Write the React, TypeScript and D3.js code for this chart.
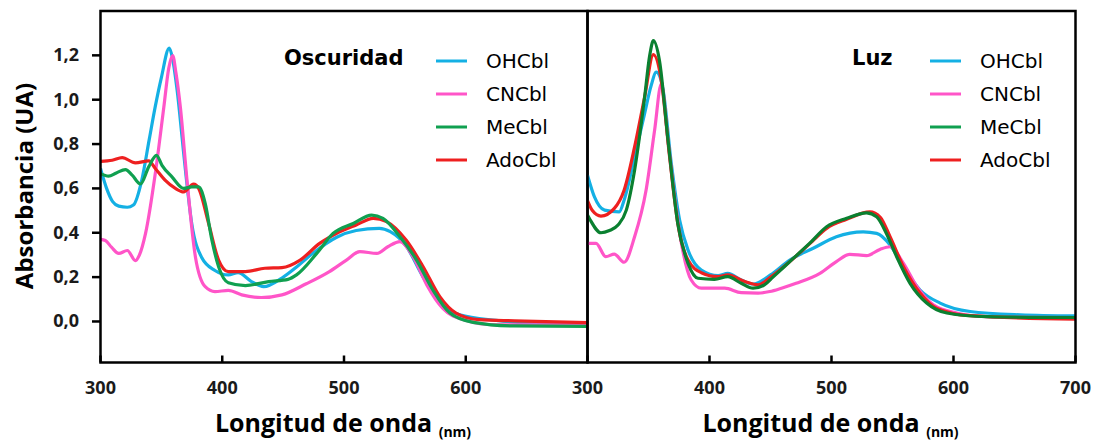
import React, { useEffect, useRef } from 'react'
import * as d3 from 'd3'

// [longitud de onda (nm), absorbancia (UA)]
const oscOH = [[300,0.69],[305,0.6],[310,0.54],[315,0.52],[322,0.515],[327,0.525],[334,0.64],[340,0.82],[345,0.97],[350,1.1],[356.5,1.233],[359,1.19],[363,1.04],[367,0.83],[370,0.67],[375,0.44],[383,0.29],[394,0.23],[405,0.21],[413,0.22],[424,0.18],[434,0.157],[449,0.196],[462,0.25],[475,0.31],[494,0.38],[510,0.41],[529,0.42],[538,0.405],[551,0.34],[565,0.2],[579,0.083],[595,0.03],[625,0.005],[652,-0.007],[700,-0.015]]
const oscCN = [[300,0.37],[304,0.365],[309,0.335],[315,0.307],[322,0.32],[328.7,0.274],[332,0.3],[337,0.397],[345,0.667],[352,0.966],[356,1.14],[359.3,1.199],[362,1.12],[365.6,0.966],[371,0.64],[378,0.29],[386,0.157],[394,0.135],[405,0.14],[416,0.12],[432,0.108],[449,0.12],[469,0.17],[488,0.225],[502,0.277],[513,0.315],[527,0.307],[536,0.337],[546,0.36],[557,0.29],[568,0.165],[581,0.06],[598,0.008],[625,-0.015],[700,-0.015]]
const oscMe = [[300,0.667],[306.6,0.655],[313,0.67],[320.5,0.685],[326,0.66],[332.8,0.62],[339.6,0.697],[346,0.749],[350.5,0.704],[358.7,0.652],[368.3,0.6],[375,0.607],[380.6,0.607],[386,0.532],[391.5,0.367],[397,0.247],[405,0.175],[419,0.162],[438,0.18],[454,0.19],[461,0.21],[477.6,0.307],[491,0.397],[507.6,0.442],[522.7,0.48],[532,0.465],[546,0.382],[559.6,0.277],[573,0.142],[587,0.038],[606,-0.004],[639,-0.02],[700,-0.022]]
const oscAdo = [[300,0.722],[309.6,0.727],[317.8,0.739],[328.7,0.715],[339.6,0.724],[345,0.69],[353,0.637],[361.5,0.6],[368.3,0.584],[376.5,0.619],[380.6,0.6],[388.8,0.442],[397,0.277],[405,0.225],[419,0.225],[435,0.24],[449,0.243],[464,0.277],[480,0.352],[494,0.397],[510,0.435],[524,0.465],[535,0.45],[551,0.367],[565,0.247],[578.7,0.112],[592,0.038],[611,0.008],[640,0.003],[700,-0.005]]

const luzOH = [[300,0.66],[305.7,0.562],[314,0.502],[326,0.494],[330,0.547],[338.6,0.742],[346.8,0.937],[352,1.06],[356.4,1.124],[361.8,1.049],[368.7,0.712],[375.5,0.457],[382.4,0.322],[393.3,0.232],[407,0.207],[415,0.217],[426,0.187],[435.7,0.169],[450,0.21],[465.8,0.277],[485,0.33],[504,0.382],[526,0.404],[537,0.397],[548,0.345],[559,0.247],[572.6,0.142],[589,0.083],[613.6,0.045],[654.7,0.03],[700,0.025]]
const luzCN = [[300,0.352],[307,0.352],[315,0.292],[322,0.304],[330,0.267],[338.6,0.382],[348,0.592],[355,0.862],[360.5,1.071],[366,0.817],[371.4,0.562],[378,0.322],[385,0.187],[393.3,0.15],[412.5,0.15],[426,0.13],[439.8,0.128],[449.4,0.135],[459,0.15],[471,0.172],[490.5,0.217],[504,0.27],[515,0.303],[528.8,0.297],[539.7,0.325],[548,0.337],[559,0.262],[570,0.157],[583.5,0.075],[602.7,0.038],[627,0.022],[700,0.018]]
const luzMe = [[300,0.48],[302,0.46],[311,0.4],[318,0.41],[325,0.435],[331.8,0.502],[338.6,0.682],[346.8,1.011],[351,1.2],[354,1.266],[359,1.176],[366,0.817],[374,0.442],[382.4,0.262],[390.6,0.195],[404,0.19],[415,0.202],[426,0.172],[435.7,0.15],[445,0.165],[452,0.2],[465.8,0.27],[482,0.352],[496,0.427],[512.4,0.465],[528.8,0.49],[537,0.472],[545,0.397],[553.4,0.292],[564.4,0.172],[578,0.083],[594.5,0.038],[627,0.022],[700,0.018]]
const luzAdo = [[300,0.545],[304,0.5],[311,0.475],[322,0.51],[330,0.592],[338.6,0.787],[346.8,1.011],[354,1.203],[360.5,1.086],[367.3,0.742],[374,0.442],[382.4,0.277],[393.3,0.22],[407,0.202],[415,0.21],[429,0.18],[439.8,0.165],[450,0.2],[465.8,0.27],[482,0.35],[496,0.42],[512,0.46],[531.5,0.494],[540,0.47],[548,0.382],[559,0.247],[572.6,0.128],[586,0.06],[613.6,0.026],[700,0.01]]

const seriesNames = ['OHCbl', 'CNCbl', 'MeCbl', 'AdoCbl']
const colors = ['#14b0e4', '#ff55c8', '#10a050', '#ee2020']
const yTicks = [0, 0.2, 0.4, 0.6, 0.8, 1.0, 1.2]
const xTicksOsc = [300, 400, 500, 600]
const xTicksLuz = [300, 400, 500, 600, 700]

const W = 1096
const H = 441
const top = 11
const bottom = 362.5

const App = () => {
  const ref = useRef(null)

  useEffect(() => {
    const svg = d3.select(ref.current)
    svg.selectAll('*').remove()

    const y = d3.scaleLinear().domain([-0.185, 1.4]).range([bottom, top])

    const panels = [
      { id: 'osc', x0: 100.5, x1: 587.5, title: 'Oscuridad', titleX: 284, legX: 436, ticks: xTicksOsc,
        data: [oscOH, oscCN, oscAdo, oscMe], order: [0, 1, 3, 2], green: '#10a050' },
      { id: 'luz', x0: 587.5, x1: 1075.5, title: 'Luz', titleX: 852, legX: 930, ticks: xTicksLuz,
        data: [luzOH, luzCN, luzAdo, luzMe], order: [0, 1, 3, 2], green: '#0a8030' }
    ]

    panels.forEach((p) => {
      const x = d3.scaleLinear().domain([300, 700]).range([p.x0, p.x1])
      const g = svg.append('g')

      g.append('clipPath').attr('id', 'clip-' + p.id)
        .append('rect').attr('x', p.x0).attr('y', top).attr('width', p.x1 - p.x0).attr('height', bottom - top)

      const line = d3.line().x((d) => x(d[0])).y((d) => y(d[1])).curve(d3.curveMonotoneX)

      // draw curves
      p.data.forEach((d, i) => {
        const si = p.order[i]
        g.append('path')
          .attr('clip-path', `url(#clip-${p.id})`)
          .attr('d', line(d))
          .attr('fill', 'none')
          .attr('stroke', si === 2 ? p.green : colors[si])
          .attr('stroke-width', 3.2)
          .attr('stroke-linejoin', 'round')
      })

      // frame
      g.append('rect')
        .attr('x', p.x0).attr('y', top).attr('width', p.x1 - p.x0).attr('height', bottom - top)
        .attr('fill', 'none').attr('stroke', '#000').attr('stroke-width', 2.5)

      // x ticks (inside)
      g.selectAll('.xt').data(p.ticks).enter().append('line')
        .attr('x1', (d) => x(d)).attr('x2', (d) => x(d))
        .attr('y1', bottom).attr('y2', bottom - 7)
        .attr('stroke', '#000').attr('stroke-width', 2.5)

      g.selectAll('.xl').data(p.ticks).enter().append('text')
        .attr('x', (d) => x(d)).attr('y', 394)
        .attr('text-anchor', 'middle')
        .style('font-family', '"Open Sans", sans-serif').style('font-weight', 700).style('font-size', '18px')
        .attr('fill', '#1a1a1a')
        .text((d) => d)

      // x title
      const t = g.append('text')
        .attr('x', (p.x0 + p.x1) / 2 - 1).attr('y', 432)
        .attr('text-anchor', 'middle')
        .style('font-family', '"Open Sans", sans-serif').style('font-weight', 700).style('font-size', '25px')
        .attr('fill', '#000')
      t.append('tspan').text('Longitud de onda ')
      t.append('tspan').attr('dy', 5).style('font-size', '14px').text('(nm)')

      // panel title
      g.append('text')
        .attr('x', p.titleX).attr('y', 65)
        .style('font-family', '"DejaVu Sans", sans-serif').style('font-weight', 700).style('font-size', '21px')
        .attr('fill', '#000')
        .text(p.title)

      // legend
      const leg = g.selectAll('.leg').data(seriesNames).enter().append('g')
        .attr('transform', (d, i) => `translate(${p.legX},${61 + i * 33})`)
      leg.append('line')
        .attr('x1', 0).attr('x2', 31).attr('y1', 0).attr('y2', 0)
        .attr('stroke', (d, i) => colors[i]).attr('stroke-width', 3)
      leg.append('text')
        .attr('x', 50).attr('y', 7)
        .style('font-family', '"DejaVu Sans", sans-serif').style('font-size', '20px')
        .attr('fill', '#000')
        .text((d) => d)
    })

    // y axis (left panel only)
    const ya = svg.append('g')
    ya.selectAll('line').data(yTicks).enter().append('line')
      .attr('x1', 92).attr('x2', 100.5)
      .attr('y1', (d) => y(d)).attr('y2', (d) => y(d))
      .attr('stroke', '#000').attr('stroke-width', 2.5)
    ya.selectAll('text').data(yTicks).enter().append('text')
      .attr('x', 79).attr('y', (d) => y(d) + 6)
      .attr('text-anchor', 'end')
      .style('font-family', '"Open Sans", sans-serif').style('font-weight', 700).style('font-size', '18px')
      .attr('fill', '#1a1a1a')
      .text((d) => d3.format('.1f')(d).replace('.', ','))

    svg.append('text')
      .attr('transform', 'translate(33,186) rotate(-90)')
      .attr('text-anchor', 'middle')
      .style('font-family', '"Open Sans", sans-serif').style('font-weight', 700).style('font-size', '24px')
      .attr('fill', '#000')
      .text('Absorbancia (UA)')
  }, [])

  return (
    <svg ref={ref} width={W} height={H}
      style={{ position: 'absolute', left: 0, top: 0, background: '#fff' }} />
  )
}

export default App
